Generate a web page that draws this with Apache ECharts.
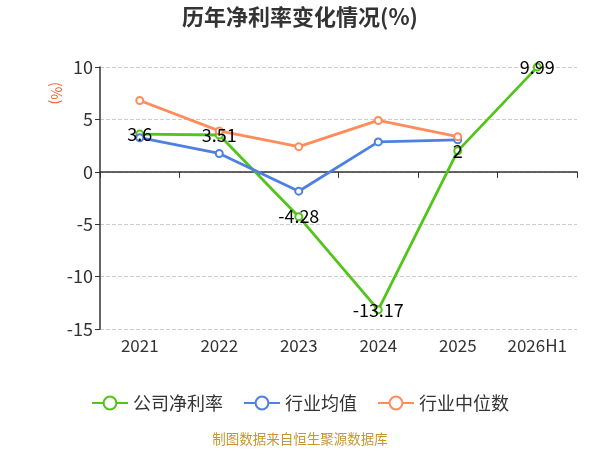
<!DOCTYPE html>
<html>
<head>
<meta charset="utf-8">
<script src="https://cdn.jsdelivr.net/npm/echarts@6/dist/echarts.min.js"></script>
<style>
  html, body { margin: 0; padding: 0; background: #fff; }
  #chart { width: 600px; height: 450px; }
</style>
</head>
<body>
<div id="chart"></div>
<script>
const years = ['2021', '2022', '2023', '2024', '2025', '2026H1'];
const companyMargin = [3.6, 3.51, -4.28, -13.17, 2, 9.99];
const industryAvg = [3.25, 1.75, -1.85, 2.85, 3.05, null];
const industryMedian = [6.8, 3.9, 2.4, 4.9, 3.35, null];
const yTicks = [-15, -10, -5, 0, 5, 10];

const font = '"Noto Sans CJK SC", "Noto Sans", sans-serif';
const chart = echarts.init(document.getElementById('chart'));

const lineSeries = (name, data, color, withLabel) => ({
  name,
  type: 'line',
  data,
  xAxisIndex: 0,
  symbol: 'emptyCircle',
  symbolSize: 7,
  connectNulls: false,
  lineStyle: { width: 2.8, color },
  itemStyle: { color },
  label: withLabel ? {
    show: true,
    position: 'inside',
    color: '#000',
    fontSize: 18,
    fontFamily: font,
  } : { show: false },
});

chart.setOption({
  backgroundColor: '#fff',
  title: {
    text: '历年净利率变化情况(%)',
    left: 'center',
    top: 1,
    textStyle: { fontSize: 22, fontWeight: 'bold', color: '#333', fontFamily: font },
  },
  legend: {
    top: 389,
    itemWidth: 36,
    itemHeight: 16,
    itemGap: 20,
    textStyle: { fontSize: 18, color: '#333', fontFamily: font },
    data: ['公司净利率', '行业均值', '行业中位数'],
  },
  graphic: [
    {
      type: 'text',
      left: 'center',
      top: 432,
      style: { text: '制图数据来自恒生聚源数据库', fill: '#c9962e', font: '13.5px ' + font },
    },
    {
      type: 'text',
      x: 63,
      y: 82,
      rotation: -Math.PI / 2,
      originX: 0,
      originY: 0,
      style: { text: '(%)', fill: '#e8642b', font: '14px ' + font },
    },
  ],
  grid: { left: 100, right: 23, top: 67, bottom: 121 },
  xAxis: [
    {
      type: 'category',
      data: years,
      boundaryGap: true,
      axisLine: { onZero: true, lineStyle: { color: '#333', width: 1.5 } },
      axisTick: { show: true, length: 6, lineStyle: { color: '#333' } },
      axisLabel: { show: false },
    },
    {
      type: 'category',
      data: years,
      position: 'bottom',
      axisLine: { show: false, onZero: false },
      axisTick: { show: false },
      axisLabel: { interval: 0, fontSize: 17, color: '#333', margin: 8, fontFamily: font },
    },
  ],
  yAxis: {
    type: 'value',
    min: yTicks[0],
    max: yTicks[yTicks.length - 1],
    interval: 5,
    axisLine: { show: true, lineStyle: { color: '#333', width: 1.5 } },
    axisTick: { show: true, length: 5, lineStyle: { color: '#333' } },
    axisLabel: { fontSize: 18, color: '#333', margin: 7, fontFamily: font },
    splitLine: { lineStyle: { type: 'dashed', color: '#ccc' } },
  },
  series: [
    lineSeries('公司净利率', companyMargin, '#52c41a', true),
    lineSeries('行业均值', industryAvg, '#4e7fe3', false),
    lineSeries('行业中位数', industryMedian, '#ff8c5a', false),
  ],
});

window.addEventListener('resize', () => chart.resize());
</script>
</body>
</html>
